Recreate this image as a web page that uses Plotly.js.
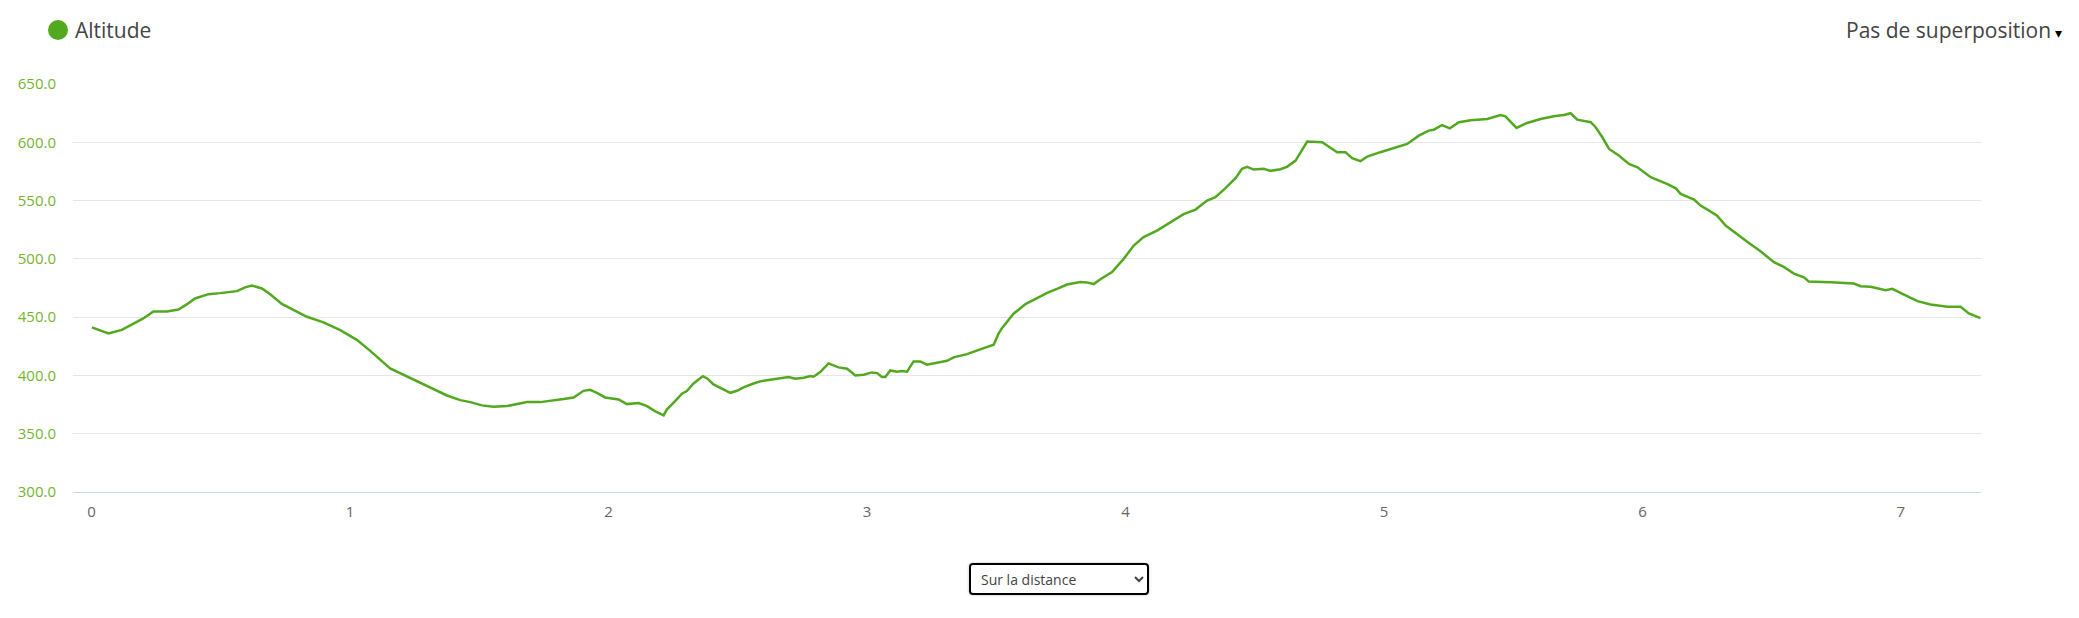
<!DOCTYPE html>
<html>
<head>
<meta charset="utf-8">
<script src="https://cdn.plot.ly/plotly-3.0.1.min.js"></script>
<style>
  html, body { margin: 0; padding: 0; background: #fff; }
  #wrap { position: relative; width: 2079px; height: 618px; }
  #chart { width: 2079px; height: 618px; }
  #mode {
    position: absolute; left: 969px; top: 563px; width: 180px; height: 32px;
    font-family: "Open Sans", sans-serif; font-size: 14px; color: #444;
    border: 2px solid #000; border-radius: 4px; background: #fff;
    box-shadow: 0 0 3px rgba(0,0,0,0.25); padding: 0 6px;
  }
</style>
</head>
<body>
<div id="wrap">
  <div id="chart"></div>
  <select id="mode"><option>Sur la distance</option><option>Sur la durée</option></select>
</div>
<script>
// Distance (km) and altitude (m)
const distance = [
  0.001,0.02,0.065,0.117,0.162,0.2,0.239,0.291,0.336,0.368,0.4,0.452,0.497,0.562,0.594,0.62,0.659,0.691,0.736,0.781,0.833,0.897,0.962,1.026,1.078,1.155,
  1.271,1.323,1.375,1.426,1.465,1.51,1.555,1.607,1.645,1.684,1.736,1.787,1.826,1.865,1.903,1.929,1.955,1.987,2.019,2.039,2.071,2.116,2.149,2.181,2.213,2.226,2.252,2.284,2.303,2.329,2.365,2.383,2.406,2.439,2.471,2.497,2.522,2.561,
  2.587,2.626,2.664,2.697,2.722,2.755,2.781,2.793,2.819,2.851,2.89,2.923,2.955,2.987,3.019,3.039,3.058,3.071,3.09,3.116,3.135,3.155,3.18,3.206,3.232,3.258,3.29,3.31,3.335,3.387,3.438,3.49,3.509,3.522,3.567,3.613,3.658,3.697,3.735,3.774,3.825,3.851,3.877,3.903,
  3.948,3.993,4.032,4.07,4.122,4.174,4.225,4.271,4.316,4.348,4.387,4.426,4.451,4.471,4.496,4.535,4.561,4.599,4.625,4.658,4.703,4.761,4.793,4.819,4.851,4.877,4.909,4.935,4.986,5.038,5.09,5.135,
  5.173,5.193,5.225,5.255,5.29,5.335,5.4,5.451,5.47,5.513,5.554,5.606,5.657,5.696,5.722,5.748,5.8,5.819,5.845,5.871,5.91,5.948,5.981,6.032,6.097,6.129,6.148,6.2,
  6.225,6.258,6.289,6.322,6.367,6.412,6.457,6.509,6.547,6.586,6.625,6.644,6.728,6.818,6.844,6.883,6.941,6.967,7.012,7.064,7.115,7.18,7.231,7.263,7.308
];
const altitude = [
  441.2,439.7,436,439.1,444.6,448.9,454.9,454.9,456.6,460.9,466,469.7,470.6,472.3,475.5,477.2,474.6,469.7,461.4,456.3,450.3,445.5,438.9,430.5,421.1,406,
  394,388.1,382.8,378.8,377.1,374.3,373.1,373.7,375.1,377.1,377.1,378.3,379.7,381.1,386.8,387.7,385.1,381.1,380,379.4,375.4,376.3,373.7,369.2,365.7,370.9,376.6,384.3,386.6,393.1,399.4,397.2,392.3,388.6,385.1,386.8,389.7,393.1,
  394.9,396.3,397.8,398.6,397.2,398,399.5,398.9,402.9,410.3,406.9,405.7,400,400.6,402.6,402,398.6,398.6,404.3,403.2,403.7,403.2,412,412,409.2,410.3,412.3,412.6,415.5,418.3,422.3,426.3,435.8,440.6,452.9,461.2,466.4,470.9,474.3,478,480.1,479.8,478.4,482.5,
  488.6,500,511.4,518.6,524.3,531.5,538.3,542.3,550,552.9,560.6,569.2,577.2,578.9,576.6,577.2,575.5,576.9,578.9,584.3,600.6,600,594.9,591.5,591.5,586.3,583.8,587.7,591.5,594.9,598.6,605.7,
  610,610.8,614.8,612,617.2,618.9,620,623.4,622.3,612.3,616.6,620,622.3,623.4,624.9,619.4,617.2,612.9,604.3,594.3,588.5,581.4,578.6,570,564.2,560.5,555.7,550.8,
  545.7,541.4,537.1,528.6,520.8,513.7,506.5,497.1,493.1,487.4,484.2,480.5,479.9,478.8,476.5,476,473.1,474.3,469.4,463.7,460.8,458.9,458.9,453.1,449.1
];
const xTicks = [0,1,2,3,4,5,6,7];
const yTicks = [300,350,400,450,500,550,600,650];
const seriesName = "Altitude";
const overlayLabel = "Pas de superposition";

const green = "#52a91f";

const trace = {
  x: distance, y: altitude, type: "scatter", mode: "lines", name: seriesName,
  line: { color: green, width: 2.5 }, hoverinfo: "x+y", showlegend: false
};

const layout = {
  width: 2079, height: 618,
  margin: { l: 73, r: 98, t: 84, b: 126 },
  paper_bgcolor: "#fff", plot_bgcolor: "#fff",
  font: { family: "Open Sans, sans-serif" },
  xaxis: {
    range: [-0.072, 7.31], tickvals: xTicks, ticktext: xTicks.map(String),
    showgrid: false, zeroline: false, showline: true, linecolor: "#ccd6eb", linewidth: 1,
    ticks: "", ticklabelstandoff: 6,
    tickfont: { family: "Open Sans, sans-serif", size: 15, color: "#666" }
  },
  yaxis: {
    range: [300, 650], tickvals: yTicks, ticktext: yTicks.map(v => v.toFixed(1)),
    showgrid: true, gridcolor: "#e6e6e6", gridwidth: 1, zeroline: false, showline: false,
    ticks: "", ticklabelstandoff: 16,
    tickfont: { family: "Open Sans, sans-serif", size: 15, color: "#74b530" }
  },
  shapes: [{
    type: "circle", xref: "paper", yref: "paper",
    xsizemode: "pixel", ysizemode: "pixel",
    xanchor: (58 - 73) / 1908, yanchor: (492 - 30) / 408,
    x0: -10, x1: 10, y0: -10, y1: 10,
    fillcolor: green, line: { width: 0 }
  }],
  annotations: [
    {
      text: seriesName, xref: "paper", yref: "paper",
      x: (73 - 73) / 1908, y: (492 - 30) / 408, xanchor: "left", yanchor: "middle",
      showarrow: false, font: { family: "Open Sans, sans-serif", size: 21, color: "#444" }
    },
    {
      text: overlayLabel + "<span style='color:#000;font-size:14px'> ▾</span>", xref: "paper", yref: "paper",
      x: (2064 - 73) / 1908, y: (492 - 30) / 408, xanchor: "right", yanchor: "middle",
      showarrow: false, font: { family: "Open Sans, sans-serif", size: 21, color: "#444" }
    }
  ]
};

Plotly.newPlot("chart", [trace], layout, { displayModeBar: false, staticPlot: false });
</script>
</body>
</html>
